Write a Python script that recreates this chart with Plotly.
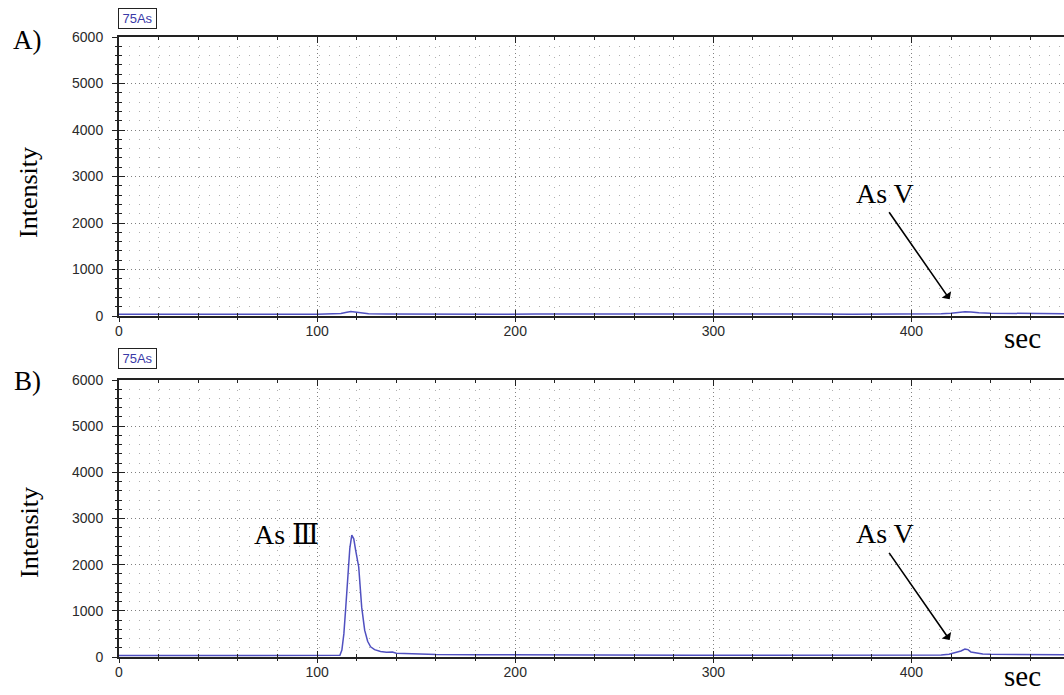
import plotly.graph_objects as go

# ---------------- data ----------------
A_time = [0, 10, 20, 30, 40, 50, 60, 70, 80, 90, 100, 108, 112, 115, 117, 119, 122, 126,
          135, 150, 170, 190, 210, 230, 250, 270, 290, 310, 330, 350, 370, 390, 405, 415,
          420, 424, 427, 430, 434, 440, 450, 460, 477]
A_int = [38, 42, 36, 44, 40, 38, 42, 37, 41, 39, 40, 44, 55, 80, 95, 88, 65, 50,
         44, 40, 42, 38, 41, 43, 39, 42, 40, 41, 38, 42, 40, 39, 42, 48,
         58, 75, 92, 85, 68, 60, 55, 52, 50]

B_time = [0, 10, 20, 30, 40, 50, 60, 70, 80, 90, 100, 108, 111.5, 112.5, 113.5, 114.5,
          115.5, 116.5, 117.5, 118.5, 119.5, 121, 122.5, 124, 125.5, 127, 129, 132, 135,
          138, 140, 145, 150, 160, 180, 200, 230, 260, 290, 320, 350, 380, 400, 415, 419,
          422, 425, 427, 428.5, 430, 433, 436, 440, 450, 460, 477]
B_int = [30, 34, 29, 33, 31, 30, 32, 29, 33, 31, 30, 32, 40, 150, 500, 1100,
         1750, 2350, 2640, 2560, 2300, 1950, 1080, 580, 340, 220, 160, 118, 105,
         108, 80, 70, 62, 55, 50, 45, 42, 40, 38, 40, 41, 39, 40, 45, 60,
         90, 130, 170, 160, 110, 80, 65, 58, 55, 52, 50]

panel_labels = ["A)", "B)"]
channel_label = "75As"
y_title = "Intensity"
x_title = "sec"

X_MAX = 477
Y_MAX = 6000

LINE_COLOR = "#5050c0"
TICK_FONT = dict(family="Liberation Sans, Arial", size=14, color="#2a2a2a")
SERIF = "Liberation Serif, Times New Roman, DejaVu Serif"

fig = go.Figure()
fig.add_trace(go.Scatter(x=A_time, y=A_int, xaxis="x", yaxis="y", mode="lines",
                         line=dict(color=LINE_COLOR, width=1.5), showlegend=False))
fig.add_trace(go.Scatter(x=B_time, y=B_int, xaxis="x2", yaxis="y2", mode="lines",
                         line=dict(color=LINE_COLOR, width=1.5), showlegend=False))
# invisible traces to activate overlay (tick/label) axes
fig.add_trace(go.Scatter(x=[None], y=[None], xaxis="x3", yaxis="y3", showlegend=False, hoverinfo="skip"))
fig.add_trace(go.Scatter(x=[None], y=[None], xaxis="x4", yaxis="y4", showlegend=False, hoverinfo="skip"))

dom_A = [341 / 620, 1.0]
dom_B = [0.0, 277 / 620]


def main_x(anchor):
    return dict(domain=[0, 1], range=[0, X_MAX], anchor=anchor, showline=True,
                linecolor="#222222", linewidth=1.5, mirror="ticks",
                ticks="inside", ticklen=6, tickwidth=1, tickcolor="#222222",
                tick0=0, dtick=100, showticklabels=False,
                showgrid=True, gridcolor="#808080", griddash="1px,3px", gridwidth=1,
                zeroline=False,
                minor=dict(dtick=20, ticks="inside", ticklen=3, tickcolor="#222222",
                           showgrid=True, gridcolor="#b0b0b0", griddash="1px,9px", gridwidth=1))


def main_y(anchor, dom):
    return dict(domain=dom, range=[0, Y_MAX], anchor=anchor, showline=True,
                linecolor="#222222", linewidth=1.5,
                ticks="inside", ticklen=6, tickwidth=1, tickcolor="#222222",
                tick0=0, dtick=1000, showticklabels=False,
                showgrid=True, gridcolor="#808080", griddash="1px,3px", gridwidth=1,
                zeroline=False,
                minor=dict(dtick=200, ticks="inside", ticklen=3, tickcolor="#222222",
                           showgrid=True, gridcolor="#b0b0b0", griddash="1px,9px", gridwidth=1))


def over_x(base, anchor):
    return dict(overlaying=base, anchor=anchor, range=[0, X_MAX], side="bottom",
                showline=False, showgrid=False, zeroline=False,
                ticks="outside", ticklen=5, tickwidth=1, tickcolor="#222222",
                tick0=0, dtick=100, tickfont=TICK_FONT, ticklabelstandoff=-3,
                minor=dict(dtick=20, ticks="outside", ticklen=3, tickcolor="#222222", showgrid=False))


def over_y(base, anchor):
    return dict(overlaying=base, anchor=anchor, range=[0, Y_MAX], side="left",
                showline=False, showgrid=False, zeroline=False,
                ticks="outside", ticklen=6, tickwidth=1, tickcolor="#222222",
                tick0=0, dtick=1000, tickfont=TICK_FONT, ticklabelstandoff=6,
                minor=dict(dtick=200, ticks="outside", ticklen=3, tickcolor="#222222", showgrid=False))


fig.update_layout(
    width=1064, height=695,
    margin=dict(l=119, r=0, t=37, b=38),
    paper_bgcolor="white", plot_bgcolor="white",
    showlegend=False,
    xaxis=main_x("y"), yaxis=main_y("x", dom_A),
    xaxis2=main_x("y2"), yaxis2=main_y("x2", dom_B),
    xaxis3=over_x("x", "y3"), yaxis3=over_y("y", "x3"),
    xaxis4=over_x("x2", "y4"), yaxis4=over_y("y2", "x4"),
)

ann = []
for i, (xr, yr, dom) in enumerate([("x", "y", dom_A), ("x2", "y2", dom_B)]):
    # channel box
    ann.append(dict(xref="paper", yref="paper", x=-0.001, y=dom[1], xanchor="left", yanchor="bottom",
                    yshift=8 if i == 0 else 11, text=channel_label, showarrow=False,
                    font=dict(family="Liberation Sans, Arial", size=13, color="#3a3aa8"),
                    bordercolor="#222222", borderwidth=1, borderpad=1, width=35, height=17,
                    bgcolor="white"))
    # panel label
    ann.append(dict(xref="paper", yref="paper", x=(27 - 119) / 945,
                    y=(657 - (40 if i == 0 else 381)) / 620, xanchor="center", yanchor="middle",
                    text=panel_labels[i], showarrow=False,
                    font=dict(family=SERIF, size=27, color="black")))
    # y title
    ann.append(dict(xref="paper", yref="paper", x=(29 - 119) / 945,
                    y=(657 - (193 if i == 0 else 533)) / 620, xanchor="center", yanchor="middle",
                    text=y_title, textangle=-90, showarrow=False,
                    font=dict(family=SERIF, size=26, color="black")))
    # x title (below the axis, in paper coords)
    ann.append(dict(xref=xr, yref="paper", x=456,
                    y=(657 - (338 if i == 0 else 676)) / 620,
                    xanchor="center", yanchor="middle", text=x_title, showarrow=False,
                    font=dict(family=SERIF, size=29, color="black")))
    # As V label and arrow
    ann.append(dict(xref=xr, yref=yr, x=386.4, y=2624 if i == 0 else 2686,
                    xanchor="center", yanchor="middle", text="As V", showarrow=False,
                    font=dict(family=SERIF, size=28, color="black")))
    ann.append(dict(xref=xr, yref=yr, x=419.3, y=359 if i == 0 else 368,
                    ax=-61.6, ay=-88.6, text="", showarrow=True,
                    arrowhead=1, arrowsize=1.2, arrowwidth=1.6, arrowcolor="black"))

ann.append(dict(xref="x2", yref="y2", x=84.3, y=2664, xanchor="center", yanchor="middle",
                text="As Ⅲ", showarrow=False,
                font=dict(family=SERIF, size=28, color="black")))

fig.update_layout(annotations=ann)

fig.write_html("out.html")
